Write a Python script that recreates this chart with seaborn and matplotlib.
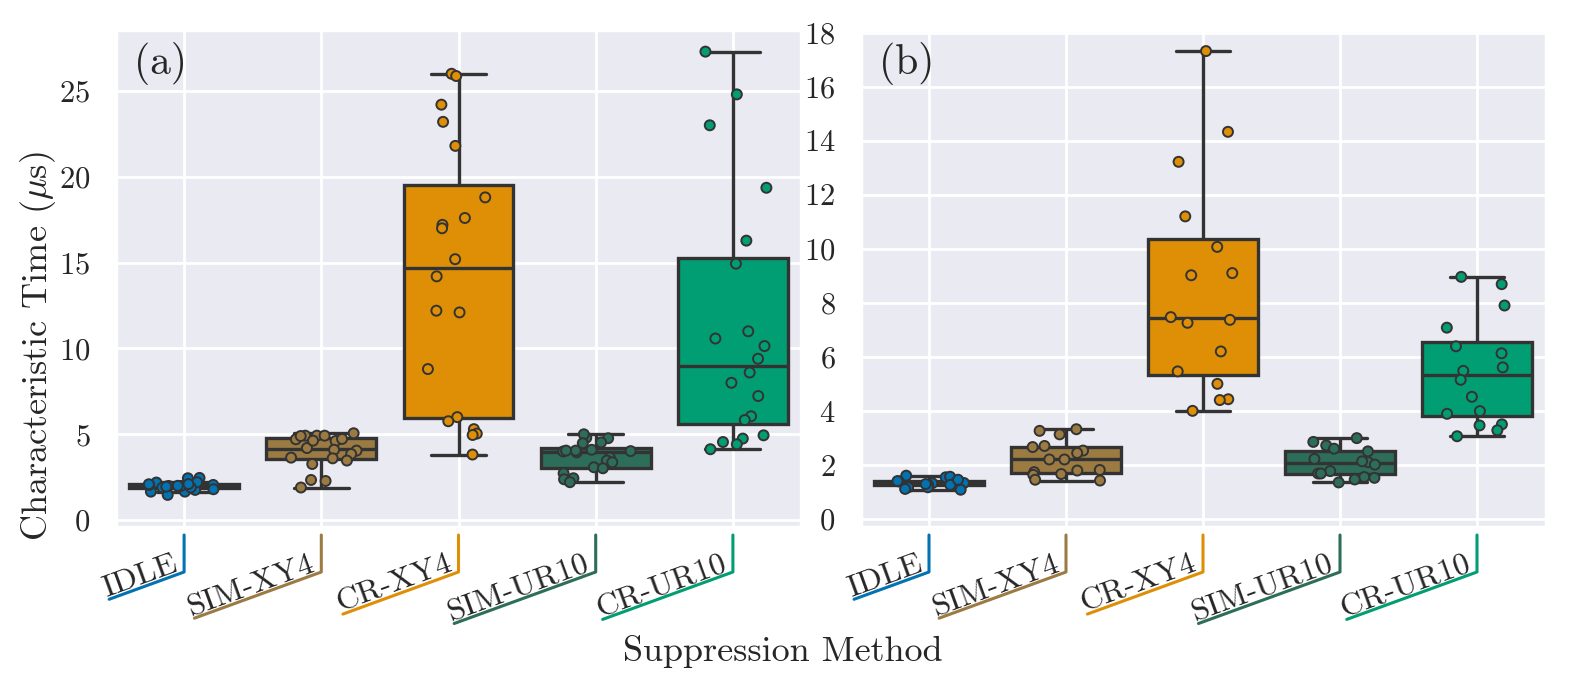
import seaborn as sns
import matplotlib.pyplot as plt
import matplotlib.lines as mlines
from matplotlib.ticker import MultipleLocator
from matplotlib.transforms import IdentityTransform
import pandas as pd
import numpy as np

methods = ['IDLE', 'SIM-XY4', 'CR-XY4', 'SIM-UR10', 'CR-UR10']
colors = ['#0173B2', '#9B7B42', '#DE8F05', '#2D6E5B', '#029E73']

# panel (a)
idle_a = [2.44, 2.46, 1.99, 1.66, 2.05, 1.80, 2.19, 1.90, 1.66, 1.99,
          2.05, 1.99, 1.76, 1.47, 2.21, 1.90, 2.09, 2.10, 1.95, 2.00]
sim_xy4_a = [4.92, 4.61, 4.92, 4.71, 4.92, 4.73, 4.20, 4.90, 4.63, 5.06,
             4.05, 4.10, 3.85, 3.47, 3.27, 3.64, 3.60, 2.28, 2.34, 1.90]
cr_xy4_a = [26.0, 25.87, 24.2, 23.2, 21.8, 18.8, 17.6, 17.2, 17.0, 15.2,
            14.2, 12.2, 12.1, 8.8, 6.0, 5.76, 5.3, 5.04, 4.96, 3.82]
sim_ur10_a = [4.80, 4.77, 5.00, 4.53, 4.48, 4.10, 4.00, 3.95, 4.02, 4.05,
              3.64, 3.47, 3.37, 3.08, 3.02, 2.73, 2.38, 2.44, 2.21, 4.05]
cr_ur10_a = [27.29, 24.8, 23.0, 19.36, 16.28, 14.94, 11.0, 10.58, 10.14, 9.40,
             8.60, 8.0, 7.23, 6.05, 5.83, 4.94, 4.75, 4.55, 4.42, 4.13]

# panel (b)
idle_b = [1.60, 1.54, 1.56, 1.33, 1.32, 1.32, 1.39, 1.26,
          1.08, 1.26, 1.17, 1.29, 1.17, 1.11, 1.40, 1.45]
sim_xy4_b = [3.32, 3.26, 3.13, 2.66, 2.70, 2.53, 2.44, 2.20,
             2.20, 1.79, 1.81, 1.66, 1.73, 1.63, 1.45, 1.42]
cr_xy4_b = [17.32, 14.33, 13.22, 11.2, 10.07, 9.10, 9.02, 7.47,
            7.37, 7.26, 6.2, 5.46, 5.0, 4.43, 4.40, 4.0]
sim_ur10_b = [2.99, 2.85, 2.72, 2.60, 2.50, 2.22, 2.10, 2.13,
              2.01, 1.77, 1.68, 1.68, 1.55, 1.52, 1.46, 1.35]
cr_ur10_b = [8.96, 8.69, 7.90, 7.08, 6.39, 6.13, 5.61, 5.48,
             5.15, 4.52, 3.99, 3.89, 3.50, 3.46, 3.28, 3.06]


def make_df(groups):
    rows = []
    for m, vals in zip(methods, groups):
        for v in vals:
            rows.append((m, v))
    return pd.DataFrame(rows, columns=['method', 'time'])


df_a = make_df([idle_a, sim_xy4_a, cr_xy4_a, sim_ur10_a, cr_ur10_a])
df_b = make_df([idle_b, sim_xy4_b, cr_xy4_b, sim_ur10_b, cr_ur10_b])

sns.set_theme(style='darkgrid')
plt.rcParams['font.family'] = ['cmr10', 'DejaVu Sans']
plt.rcParams['mathtext.fontset'] = 'cm'
plt.rcParams['axes.unicode_minus'] = False
plt.rcParams['axes.formatter.use_mathtext'] = True

DPI = 200
fig = plt.figure(figsize=(1579 / DPI, 692 / DPI), dpi=DPI)
ax_a = fig.add_axes([115.5 / 1579, 165 / 692, 686 / 1579, 497 / 692])
ax_b = fig.add_axes([860.5 / 1579, 165 / 692, 685 / 1579, 497 / 692])

pal = dict(zip(methods, colors))
np.random.seed(3)
for ax, df, tag, ylim, step in [(ax_a, df_a, '(a)', (-0.4, 28.55), 5),
                                (ax_b, df_b, '(b)', (-0.3, 18.1), 2)]:
    sns.boxplot(data=df, x='method', y='time', hue='method', order=methods,
                palette=pal, saturation=1, showfliers=False, width=0.8,
                linewidth=1.2, linecolor='#333333', legend=False, ax=ax)
    sns.stripplot(data=df, x='method', y='time', hue='method', order=methods,
                  palette=pal, jitter=0.27, size=3.6, linewidth=0.7,
                  edgecolor='#333333', legend=False, ax=ax)
    ax.set_ylim(*ylim)
    ax.set_xlim(-0.5, 4.5)
    ax.yaxis.set_major_locator(MultipleLocator(step))
    ax.set_xlabel('')
    ax.set_ylabel('')
    ax.set_xticks(range(len(methods)))
    ax.set_xticklabels([])
    ax.xaxis.grid(True)
    ax.yaxis.grid(True)
    ax.set_axisbelow(True)
    ax.tick_params(axis='y', labelsize=11, pad=3)
    ax.tick_params(axis='x', length=0)
    ax.text(0.027, 0.975, tag, transform=ax.transAxes, ha='left', va='top',
            fontsize=15)

fig.supxlabel('Suppression Method', x=0.496, y=0.058, va='center', fontsize=13)
fig.supylabel(r'Characteristic Time ($\mu$s)', x=0.024, y=0.5, ha='center',
              va='center', fontsize=13)

# rotated category labels with coloured bracket underline
renderer = fig.canvas.get_renderer()
ang = np.deg2rad(20)
d = np.array([np.cos(ang), np.sin(ang)])
perp = np.array([-np.sin(ang), np.cos(ang)])
for ax in (ax_a, ax_b):
    for i, (m, c) in enumerate(zip(methods, colors)):
        x0, y0 = ax.get_xaxis_transform().transform((i, 0))
        top = np.array([x0, y0 - 8])
        bot = np.array([x0, y0 - 45])
        t = fig.text(0, 0, m, fontsize=11.5, transform=IdentityTransform())
        w = t.get_window_extent(renderer).width
        t.remove()
        end = bot - d * (w + 2)
        fig.add_artist(mlines.Line2D([top[0], bot[0], end[0]],
                                     [top[1], bot[1], end[1]], color=c,
                                     lw=1.1, transform=IdentityTransform()))
        anchor = bot - d * 4 + perp * 3
        fig.text(anchor[0], anchor[1], m, fontsize=11.5, rotation=20,
                 rotation_mode='anchor', ha='right', va='baseline',
                 transform=IdentityTransform())

fig.savefig('out.png', dpi=DPI)
